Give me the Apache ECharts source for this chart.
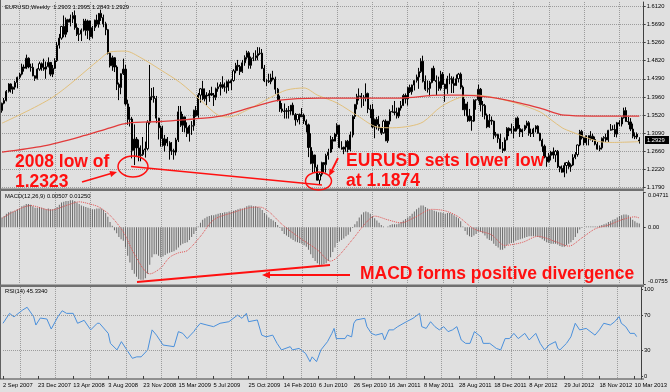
<!DOCTYPE html>
<html><head><meta charset="utf-8">
<script src="https://cdn.jsdelivr.net/npm/echarts@6/dist/echarts.min.js"></script>
<style>html,body{margin:0;padding:0;background:#e0e0e0}#c{width:670px;height:392px}</style>
</head><body><div id="c"></div>
<script>
// weekly bars: [open, high, low, close]
const y2007 = [
[1.3630,1.3820,1.3580,1.3805],[1.3805,1.3930,1.3780,1.3870],[1.3870,1.4120,1.3850,1.4090],[1.4090,1.4283,1.4060,1.4265],
[1.4265,1.4280,1.4060,1.4140],[1.4140,1.4205,1.4030,1.4190],[1.4190,1.4340,1.4130,1.4300],[1.4300,1.4440,1.4160,1.4425],
[1.4425,1.4530,1.4380,1.4500],[1.4500,1.4750,1.4470,1.4670],[1.4670,1.4730,1.4560,1.4640],[1.4640,1.4965,1.4620,1.4880],
[1.4880,1.4900,1.4640,1.4670],[1.4670,1.4750,1.4560,1.4660],[1.4660,1.4760,1.4450,1.4460],[1.4460,1.4470,1.4340,1.4400],
[1.4400,1.4640,1.4370,1.4620],[1.4620,1.4800,1.4580,1.4750]];
const y2008 = [
[1.4750,1.4780,1.4580,1.4660],[1.4660,1.4870,1.4580,1.4620],[1.4620,1.4800,1.4390,1.4680],[1.4680,1.4900,1.4660,1.4780],
[1.4780,1.4790,1.4450,1.4500],[1.4500,1.4720,1.4430,1.4640],[1.4640,1.4880,1.4620,1.4820],[1.4820,1.5270,1.4790,1.5190],
[1.5190,1.5460,1.5110,1.5360],[1.5360,1.5650,1.5320,1.5640],[1.5640,1.5900,1.5380,1.5450],[1.5450,1.5850,1.5380,1.5800],
[1.5800,1.5820,1.5500,1.5740],[1.5740,1.5920,1.5640,1.5820],[1.5820,1.5980,1.5720,1.5900],[1.5900,1.6020,1.5560,1.5610],
[1.5610,1.5710,1.5410,1.5450],[1.5450,1.5600,1.5290,1.5460],[1.5460,1.5590,1.5290,1.5550],[1.5550,1.5820,1.5520,1.5770],
[1.5770,1.5820,1.5420,1.5540],[1.5540,1.5800,1.5340,1.5770],[1.5770,1.5780,1.5310,1.5390],[1.5390,1.5650,1.5350,1.5610],
[1.5610,1.5800,1.5530,1.5790],[1.5790,1.5920,1.5640,1.5690],[1.5690,1.5900,1.5610,1.5950],[1.5950,1.6040,1.5770,1.5850],
[1.5850,1.5920,1.5620,1.5700],[1.5700,1.5750,1.5430,1.5560],[1.5560,1.5580,1.4970,1.5000],[1.5000,1.5020,1.4660,1.4700],
[1.4700,1.4940,1.4580,1.4890],[1.4890,1.4900,1.4550,1.4670],[1.4670,1.4710,1.4120,1.4260],[1.4260,1.4300,1.3880,1.4180],
[1.4180,1.4520,1.4020,1.4510],[1.4510,1.4870,1.4480,1.4620],[1.4620,1.4720,1.3750,1.3790],[1.3790,1.3890,1.3290,1.3420],
[1.3420,1.3720,1.3250,1.3430],[1.3430,1.3480,1.2490,1.2680],[1.2680,1.3300,1.2330,1.2950],[1.2950,1.3000,1.2520,1.2740],
[1.2740,1.2940,1.2420,1.2560],[1.2560,1.2800,1.2420,1.2580],[1.2580,1.3000,1.2550,1.2690],[1.2690,1.2890,1.2510,1.2720],
[1.2720,1.3400,1.2680,1.3350],[1.3350,1.4720,1.3300,1.3960],[1.3960,1.4170,1.3880,1.3970],[1.3970,1.4190,1.3820,1.3920]];
const y2009 = [
[1.3920,1.3980,1.3330,1.3450],[1.3450,1.3460,1.2940,1.3220],[1.3220,1.3270,1.2770,1.2960],[1.2960,1.3270,1.2770,1.2800],
[1.2800,1.3050,1.2650,1.2950],[1.2950,1.3000,1.2780,1.2860],[1.2860,1.2900,1.2460,1.2670],[1.2670,1.2880,1.2570,1.2670],
[1.2670,1.2720,1.2460,1.2640],[1.2640,1.2980,1.2560,1.2930],[1.2930,1.3740,1.2880,1.3600],[1.3600,1.3740,1.3240,1.3280],
[1.3280,1.3550,1.3120,1.3480],[1.3480,1.3490,1.3110,1.3220],[1.3220,1.3350,1.3000,1.3080],[1.3080,1.3290,1.2890,1.3260],
[1.3260,1.3380,1.3050,1.3270],[1.3270,1.3650,1.3150,1.3640],[1.3640,1.3740,1.3480,1.3510],[1.3510,1.4050,1.3460,1.4000],
[1.4000,1.4170,1.3820,1.4150],[1.4150,1.4340,1.3880,1.3910],[1.3910,1.4160,1.3850,1.4000],[1.4000,1.4070,1.3760,1.3980],
[1.3980,1.4120,1.3840,1.4040],[1.4040,1.4200,1.3980,1.4000],[1.4000,1.4050,1.3740,1.3950],[1.3950,1.4180,1.3880,1.4150],
[1.4150,1.4300,1.4080,1.4200],[1.4200,1.4310,1.3990,1.4250],[1.4250,1.4450,1.4150,1.4190],[1.4190,1.4300,1.4080,1.4190],
[1.4190,1.4350,1.4040,1.4320],[1.4320,1.4370,1.4100,1.4290],[1.4290,1.4380,1.4120,1.4350],[1.4350,1.4620,1.4320,1.4580],
[1.4580,1.4770,1.4520,1.4710],[1.4710,1.4840,1.4580,1.4680],[1.4680,1.4720,1.4480,1.4560],[1.4560,1.4840,1.4530,1.4770],
[1.4770,1.4950,1.4700,1.4900],[1.4900,1.5060,1.4850,1.5010],[1.5010,1.5050,1.4630,1.4710],[1.4710,1.4920,1.4630,1.4880],
[1.4880,1.5010,1.4810,1.4890],[1.4890,1.5070,1.4820,1.4940],[1.4940,1.5145,1.4830,1.4990],[1.4990,1.5140,1.4960,1.5000],
[1.5000,1.5100,1.4620,1.4640],[1.4640,1.4720,1.4310,1.4340],[1.4340,1.4380,1.4220,1.4340],[1.4340,1.4510,1.4290,1.4320]];
const y2010 = [
[1.4320,1.4510,1.4260,1.4410],[1.4410,1.4580,1.4350,1.4380],[1.4380,1.4440,1.4030,1.4140],[1.4140,1.4170,1.3850,1.3870],
[1.3870,1.3990,1.3600,1.3670],[1.3670,1.3810,1.3580,1.3620],[1.3620,1.3800,1.3440,1.3610],[1.3610,1.3690,1.3440,1.3630],
[1.3630,1.3740,1.3440,1.3620],[1.3620,1.3750,1.3530,1.3760],[1.3760,1.3820,1.3530,1.3530],[1.3530,1.3570,1.3270,1.3410],
[1.3410,1.3550,1.3350,1.3540],[1.3540,1.3560,1.3300,1.3480],[1.3480,1.3690,1.3480,1.3520],[1.3520,1.3560,1.3310,1.3380],
[1.3380,1.3420,1.3110,1.3290],[1.3290,1.3320,1.2520,1.2750],[1.2750,1.3090,1.2350,1.2370],[1.2370,1.2670,1.2150,1.2570],
[1.2570,1.2580,1.2150,1.2280],[1.2280,1.2340,1.1960,1.1970],[1.1970,1.2160,1.1876,1.2110],[1.2110,1.2410,1.2060,1.2390],
[1.2390,1.2400,1.2150,1.2340],[1.2340,1.2600,1.2150,1.2560],[1.2560,1.2720,1.2460,1.2640],[1.2640,1.3030,1.2620,1.2940],
[1.2940,1.3000,1.2710,1.2900],[1.2900,1.3100,1.2900,1.3070],[1.3070,1.3330,1.3010,1.3280],[1.3280,1.3290,1.2730,1.2750],
[1.2750,1.2900,1.2700,1.2710],[1.2710,1.2770,1.2590,1.2760],[1.2760,1.2920,1.2650,1.2900],[1.2900,1.2930,1.2630,1.2700],
[1.2700,1.3130,1.2660,1.3050],[1.3050,1.3520,1.2990,1.3490],[1.3490,1.3780,1.3430,1.3780],[1.3780,1.4030,1.3660,1.3970],
[1.3970,1.4160,1.3870,1.3980],[1.3980,1.4050,1.3700,1.3950],[1.3950,1.4000,1.3740,1.3940],[1.3940,1.4280,1.3850,1.4040],
[1.4040,1.4060,1.3570,1.3670],[1.3670,1.3770,1.3450,1.3660],[1.3660,1.3790,1.3210,1.3240],[1.3240,1.3440,1.2970,1.3420],
[1.3420,1.3480,1.3180,1.3300],[1.3300,1.3500,1.3150,1.3210],[1.3210,1.3240,1.3050,1.3100],[1.3100,1.3410,1.3080,1.3380]];
const y2011 = [
[1.3380,1.3420,1.2900,1.2910],[1.2910,1.3380,1.2860,1.3380],[1.3380,1.3660,1.3300,1.3610],[1.3610,1.3760,1.3580,1.3600],
[1.3600,1.3860,1.3520,1.3580],[1.3580,1.3700,1.3440,1.3500],[1.3500,1.3700,1.3450,1.3690],[1.3690,1.3860,1.3630,1.3750],
[1.3750,1.4030,1.3740,1.3990],[1.3990,1.4040,1.3800,1.3910],[1.3910,1.4200,1.3750,1.4180],[1.4180,1.4250,1.4050,1.4080],
[1.4080,1.4250,1.4010,1.4240],[1.4240,1.4350,1.4110,1.4350],[1.4350,1.4490,1.4300,1.4430],[1.4430,1.4650,1.4150,1.4560],
[1.4560,1.4880,1.4530,1.4810],[1.4810,1.4940,1.4300,1.4330],[1.4330,1.4470,1.4100,1.4140],[1.4140,1.4350,1.4060,1.4160],
[1.4160,1.4340,1.3970,1.4300],[1.4300,1.4640,1.4280,1.4640],[1.4640,1.4700,1.4340,1.4350],[1.4350,1.4470,1.4000,1.4320],
[1.4320,1.4440,1.4100,1.4160],[1.4160,1.4580,1.4110,1.4500],[1.4500,1.4550,1.4240,1.4260],[1.4260,1.4270,1.3840,1.4150],
[1.4150,1.4460,1.4030,1.4390],[1.4390,1.4520,1.4260,1.4390],[1.4390,1.4450,1.4050,1.4280],[1.4280,1.4440,1.4050,1.4230],
[1.4230,1.4490,1.4260,1.4390],[1.4390,1.4530,1.4300,1.4500],[1.4500,1.4540,1.4140,1.4190],[1.4190,1.4230,1.3660,1.3650],
[1.3650,1.3910,1.3500,1.3790],[1.3790,1.3840,1.3360,1.3500],[1.3500,1.3670,1.3370,1.3390],[1.3390,1.3500,1.3150,1.3380],
[1.3380,1.3900,1.3360,1.3880],[1.3880,1.3900,1.3650,1.3890],[1.3890,1.4250,1.3850,1.4140],[1.4140,1.4170,1.3610,1.3770],
[1.3770,1.3860,1.3480,1.3750],[1.3750,1.3790,1.3420,1.3520],[1.3520,1.3560,1.3210,1.3240],[1.3240,1.3550,1.3220,1.3400],
[1.3400,1.3490,1.3290,1.3380],[1.3380,1.3390,1.2950,1.3040],[1.3040,1.3120,1.2990,1.3060],[1.3060,1.3080,1.2860,1.2960]];
const y2012 = [
[1.2960,1.3080,1.2720,1.2720],[1.2720,1.2880,1.2620,1.2680],[1.2680,1.2990,1.2660,1.2930],[1.2930,1.3235,1.2920,1.3210],
[1.3210,1.3230,1.3020,1.3150],[1.3150,1.3320,1.3080,1.3200],[1.3200,1.3260,1.2970,1.3140],[1.3140,1.3460,1.3130,1.3450],
[1.3450,1.3490,1.3180,1.3200],[1.3200,1.3290,1.3000,1.3120],[1.3120,1.3200,1.3000,1.3180],[1.3180,1.3290,1.3140,1.3270],
[1.3270,1.3390,1.3210,1.3340],[1.3340,1.3380,1.3030,1.3090],[1.3090,1.3200,1.3000,1.3080],[1.3080,1.3220,1.3000,1.3190],
[1.3190,1.3280,1.3110,1.3260],[1.3260,1.3280,1.3080,1.3090],[1.3090,1.3100,1.2900,1.2920],[1.2920,1.2960,1.2640,1.2780],
[1.2780,1.2820,1.2490,1.2520],[1.2520,1.2530,1.2290,1.2410],[1.2410,1.2620,1.2390,1.2560],[1.2560,1.2670,1.2440,1.2640],
[1.2640,1.2750,1.2480,1.2570],[1.2570,1.2690,1.2400,1.2660],[1.2660,1.2690,1.2260,1.2290],[1.2290,1.2310,1.2160,1.2250],
[1.2250,1.2320,1.2150,1.2160],[1.2160,1.2390,1.2040,1.2320],[1.2320,1.2400,1.2130,1.2390],[1.2390,1.2440,1.2240,1.2290],
[1.2290,1.2370,1.2170,1.2330],[1.2330,1.2590,1.2310,1.2510],[1.2510,1.2640,1.2470,1.2580],[1.2580,1.2820,1.2530,1.2810],
[1.2810,1.3170,1.2780,1.3130],[1.3130,1.3170,1.2940,1.2980],[1.2980,1.2990,1.2800,1.2860],[1.2860,1.3040,1.2800,1.3030],
[1.3030,1.3040,1.2800,1.2950],[1.2950,1.3140,1.2920,1.3020],[1.3020,1.3080,1.2880,1.2940],[1.2940,1.3010,1.2800,1.2830],
[1.2830,1.2880,1.2700,1.2710],[1.2710,1.2800,1.2660,1.2740],[1.2740,1.2990,1.2700,1.2970],[1.2970,1.3020,1.2880,1.2990],
[1.2990,1.3080,1.2880,1.2930],[1.2930,1.3170,1.2880,1.3160],[1.3160,1.3310,1.3150,1.3180],[1.3180,1.3280,1.3160,1.3180],
[1.3180,1.3300,1.3000,1.3070]];
const y2013 = [
[1.3070,1.3360,1.2990,1.3340],[1.3340,1.3400,1.3260,1.3310],[1.3310,1.3480,1.3250,1.3460],[1.3460,1.3700,1.3440,1.3630],
[1.3630,1.3710,1.3370,1.3370],[1.3370,1.3480,1.3290,1.3360],[1.3360,1.3450,1.3140,1.3190],[1.3190,1.3320,1.2970,1.3020],
[1.3020,1.3110,1.2950,1.3000],[1.3000,1.3110,1.2950,1.3070],[1.2903,1.2995,1.2843,1.2929]];

// moving averages: [bar index, price]
const maSlow = [[0,1.264],[19,1.279],[37,1.303],[49,1.322],[57,1.333],[72,1.337],[82,1.341],[87,1.343],[99,1.350],[114,1.372],[126,1.388],[144,1.393],[167,1.393],[180,1.393],[199,1.400],[208,1.400],[221,1.395],[235,1.381],[244,1.369],[255,1.352],[268,1.350],[289,1.350]];
const maFast = [[0,1.333],[23,1.395],[44,1.484],[49,1.503],[56,1.505],[63,1.489],[72,1.460],[81,1.429],[90,1.388],[98,1.352],[103,1.348],[111,1.364],[122,1.395],[129,1.412],[137,1.417],[143,1.400],[152,1.381],[162,1.348],[170,1.324],[177,1.322],[185,1.326],[191,1.336],[199,1.372],[208,1.395],[215,1.400],[222,1.395],[233,1.381],[244,1.360],[249,1.341],[254,1.322],[256,1.317],[262,1.305],[270,1.290],[277,1.287],[289,1.289]];

// MACD main (histogram), one value per week
const macdHist = [
0.013,0.015,0.018,0.020,0.021,0.021,0.022,0.024,0.025,0.028,
0.029,0.031,0.031,0.030,0.028,0.026,0.026,0.027,0.026,0.025,
0.024,0.025,0.024,0.024,0.025,0.027,0.030,0.033,0.034,0.035,
0.035,0.036,0.036,0.035,0.033,0.031,0.029,0.028,0.027,0.026,
0.025,0.024,0.024,0.025,0.025,0.025,0.023,0.019,0.014,0.007,
0.002,-0.004,-0.008,-0.013,-0.016,-0.018,-0.027,-0.038,-0.047,-0.057,
-0.062,-0.066,-0.069,-0.070,-0.070,-0.068,-0.062,-0.050,-0.040,-0.036,
-0.036,-0.038,-0.040,-0.039,-0.037,-0.035,-0.034,-0.033,-0.032,-0.030,
-0.027,-0.024,-0.022,-0.021,-0.020,-0.017,-0.013,-0.009,-0.005,0.001,
0.006,0.010,0.012,0.014,0.015,0.016,0.016,0.017,0.018,0.019,
0.019,0.020,0.020,0.021,0.021,0.022,0.023,0.024,0.025,0.025,
0.026,0.028,0.029,0.029,0.028,0.028,0.027,0.026,0.023,0.019,
0.016,0.013,0.011,0.009,0.007,0.003,-0.001,-0.005,-0.009,-0.011,
-0.013,-0.015,-0.017,-0.019,-0.020,-0.021,-0.022,-0.024,-0.026,-0.030,
-0.036,-0.041,-0.045,-0.048,-0.050,-0.050,-0.049,-0.048,-0.045,-0.040,
-0.033,-0.027,-0.021,-0.019,-0.017,-0.015,-0.012,-0.010,-0.006,-0.001,
0.004,0.008,0.013,0.017,0.020,0.021,0.020,0.018,0.015,0.012,
0.009,0.006,0.003,0.001,0.000,0.001,0.003,0.004,0.004,0.004,
0.005,0.007,0.009,0.011,0.013,0.015,0.018,0.021,0.024,0.026,
0.029,0.029,0.027,0.025,0.023,0.023,0.022,0.021,0.020,0.020,
0.019,0.018,0.019,0.019,0.018,0.016,0.014,0.012,0.008,0.001,
-0.005,-0.010,-0.012,-0.013,-0.011,-0.009,-0.006,-0.006,-0.008,-0.011,
-0.015,-0.017,-0.018,-0.022,-0.025,-0.027,-0.030,-0.030,-0.028,-0.024,
-0.022,-0.021,-0.020,-0.018,-0.017,-0.016,-0.015,-0.014,-0.013,-0.012,
-0.012,-0.012,-0.012,-0.013,-0.014,-0.016,-0.018,-0.020,-0.021,-0.022,
-0.022,-0.022,-0.023,-0.025,-0.026,-0.026,-0.024,-0.022,-0.020,-0.017,
-0.013,-0.008,-0.003,-0.001,0.000,0.001,0.001,0.001,0.001,0.001,
0.001,0.002,0.003,0.004,0.005,0.007,0.008,0.010,0.011,0.013,
0.015,0.016,0.017,0.017,0.016,0.013,0.010,0.008,0.006,0.005];

// MACD signal line: [bar index, value]
const macdSignal = [[0,0.012],[6,0.022],[13,0.029],[22,0.023],[30,0.030],[35,0.034],[40,0.031],[44,0.027],[49,0.016],[55,-0.006],[59,-0.030],[64,-0.055],[67,-0.062],[72,-0.054],[76,-0.040],[80,-0.034],[84,-0.031],[90,-0.012],[96,0.010],[105,0.020],[112,0.026],[117,0.027],[121,0.021],[127,0.004],[135,-0.014],[143,-0.030],[149,-0.045],[152,-0.040],[159,-0.016],[165,0.006],[169,0.015],[175,0.010],[181,0.006],[187,0.013],[195,0.024],[201,0.022],[207,0.014],[214,-0.002],[222,-0.010],[228,-0.024],[236,-0.020],[243,-0.012],[251,-0.019],[257,-0.025],[263,-0.014],[269,-0.002],[275,0.003],[281,0.010],[287,0.014],[289,0.0125]];

// RSI(14): [bar index, value]
const rsi = [[0,60.6],[3,72],[5,68],[9,75.9],[11,79],[14,68],[15,58.6],[17,66.6],[20,65.5],[22,54],[25,68],[27,75],[29,72],[32,72],[34,60.6],[37,64],[40,53],[43,60.6],[44,60.6],[48,49],[49,37.5],[52,30],[54,39.5],[57,28],[59,20.3],[61,22],[63,22],[66,30],[68,53],[70,47],[73,35.6],[78,33.7],[80,51],[82,49],[84,43],[87,51],[88,54.7],[90,60.6],[93,58.6],[96,56.7],[99,60.6],[103,62.4],[107,70],[109,66.3],[111,72],[112,62.4],[116,64.4],[118,47],[120,45],[123,47],[125,37.5],[127,30],[131,33.7],[132,30],[135,31.7],[138,26],[140,16.5],[141,22],[143,16.5],[145,30],[148,39.5],[150,49],[151,54.7],[152,43],[156,43],[157,47],[159,45],[160,60.6],[161,64.4],[165,66.3],[166,56.7],[168,49],[170,47],[173,49],[174,41.4],[176,53],[178,53],[180,56.7],[184,62.4],[187,66.3],[190,72],[191,56.7],[193,54.7],[195,62.4],[197,56.7],[199,53],[201,56.7],[203,51],[205,53],[207,56.7],[209,41.4],[211,37.5],[213,37.5],[215,51],[218,45],[219,37.5],[222,37.5],[225,31.7],[227,30],[229,43],[231,43],[233,49],[235,43],[238,49],[240,41.4],[243,49],[245,37.5],[247,30],[249,35.6],[252,39.5],[253,31.7],[254,30],[257,37.5],[259,45],[261,60.6],[263,53],[266,54.7],[270,47],[272,53],[274,60.6],[277,58.6],[279,62.4],[281,68.3],[282,60.6],[284,56.7],[286,49],[288,49],[289,45.3]];

const xTickLabels = ['2 Sep 2007','23 Dec 2007','13 Apr 2008','3 Aug 2008','23 Nov 2008','15 Mar 2009','5 Jul 2009','25 Oct 2009','14 Feb 2010','6 Jun 2010','26 Sep 2010','16 Jan 2011','8 May 2011','28 Aug 2011','18 Dec 2011','8 Apr 2012','29 Jul 2012','18 Nov 2012','10 Mar 2013'];
const priceTicks = [1.1790,1.2223,1.2656,1.3089,1.3522,1.3955,1.4388,1.4821,1.5254,1.5687,1.6120];
const priceTickLabels = ['1.1790','1.2220','1.2660','1.3090','1.3520','1.3960','1.4390','1.4820','1.5260','1.5690','1.6120'];
const macdTicks = [-0.0755,0,0.04711];
const macdTickLabels = ['-0.0755','0.00','0.04711'];
const rsiTicks = [0,30,70,100];
const rsiLevels = [30,70];

const ohlc = [].concat(y2007,y2008,y2009,y2010,y2011,y2012,y2013);
const nCats = ohlc.length + 2;
const cats = Array.from({length:nCats},(_,i)=>String(i));
const candleData = ohlc.map(r=>[r[0],r[3],r[2],r[1]]);
const last = ohlc[ohlc.length-1];

const FONT = 'Liberation Sans';
const small = 5.8;
const gridL = 2, gridW = 641.7;
const chart = echarts.init(document.getElementById('c'), null, {renderer:'canvas'});

function xAx(g){
  return {type:'category', gridIndex:g, data:cats, boundaryGap:false,
    axisLine:{show:false},
    axisTick:{show:g===2, interval:(i)=>i%16===0, length:3, lineStyle:{color:'#404040'}},
    axisLabel:{show:g===2, interval:(i)=>i%16===0, formatter:(v)=>xTickLabels[Number(v)/16]||'', align:'left',
      fontSize:small, fontFamily:FONT, color:'#000', margin:3},
    splitLine:{show:true, interval:(i)=>i%16===8, lineStyle:{type:'dotted', color:'#9c9c9c', width:1}}};
}
const axLine = {show:true, lineStyle:{color:'#404040', width:1}};
const option = {
  animation:false,
  backgroundColor:'#e0e0e0',
  grid:[
    {left:gridL, width:gridW, top:2, height:186.5},
    {left:gridL, width:gridW, top:192, height:92},
    {left:gridL, width:gridW, top:287, height:92}
  ],
  xAxis:[xAx(0),xAx(1),xAx(2)],
  yAxis:[
    {type:'value', gridIndex:0, position:'right', min:1.1771, max:1.6222,
      axisLine:axLine, axisTick:{show:true, length:2, customValues:priceTicks, lineStyle:{color:'#404040'}},
      axisLabel:{customValues:priceTicks, formatter:(v)=>{const k=priceTicks.findIndex(t=>Math.abs(t-v)<1e-6);return k>=0?priceTickLabels[k]:'';},
        fontSize:small, fontFamily:FONT, color:'#000', margin:3},
      splitLine:{show:true, lineStyle:{type:'dotted', color:'#9c9c9c'}}},
    {type:'value', gridIndex:1, position:'right', min:-0.0755, max:0.04711,
      axisLine:axLine, axisTick:{show:true, length:2, customValues:macdTicks, lineStyle:{color:'#404040'}},
      axisLabel:{show:false}, splitLine:{show:false}},
    {type:'value', gridIndex:2, position:'right', min:-3.45, max:102.3,
      axisLine:axLine, axisTick:{show:true, length:2, customValues:rsiTicks, lineStyle:{color:'#404040'}},
      axisLabel:{customValues:rsiTicks, formatter:(v)=>String(Math.round(v)), fontSize:small, fontFamily:FONT, color:'#000', margin:3},
      splitLine:{show:false}}
  ],
  series:[
    {type:'candlestick', xAxisIndex:0, yAxisIndex:0, data:candleData, barWidth:1.6,
      itemStyle:{color:'#ffffff', color0:'#000000', borderColor:'#000000', borderColor0:'#000000', borderWidth:1}},
    {type:'line', xAxisIndex:0, yAxisIndex:0, data:maFast, showSymbol:false, smooth:0.3, lineStyle:{color:'#e2c07c', width:1}},
    {type:'line', xAxisIndex:0, yAxisIndex:0, data:maSlow, showSymbol:false, smooth:0.3, lineStyle:{color:'#e23a3a', width:1.3}},
    {type:'bar', xAxisIndex:1, yAxisIndex:1, data:macdHist, barWidth:1, itemStyle:{color:'#6a6a6a'}},
    {type:'line', xAxisIndex:1, yAxisIndex:1, data:macdSignal, showSymbol:false, smooth:0.3, lineStyle:{color:'#e05050', width:1, type:'dotted'}},
    {type:'line', xAxisIndex:2, yAxisIndex:2, data:rsi, showSymbol:false, lineStyle:{color:'#4a90dc', width:1},
      markLine:{silent:true, symbol:'none', label:{show:false}, lineStyle:{type:'dotted', color:'#9c9c9c', width:1},
        data:rsiLevels.map(v=>({yAxis:v}))}}
  ]
};
chart.setOption(option);

const red = '#ff1010';
const g = [];
// panel separators and frame
g.push({type:'rect', shape:{x:0,y:0,width:1,height:379}, style:{fill:'#606060'}, z:50});
g.push({type:'rect', shape:{x:0,y:188.5,width:644,height:2.5}, style:{fill:'#707070'}, z:50});
g.push({type:'rect', shape:{x:0,y:284.5,width:644,height:2.5}, style:{fill:'#707070'}, z:50});
g.push({type:'rect', shape:{x:0,y:378.5,width:644,height:1}, style:{fill:'#404040'}, z:50});
// header texts
const hdr = (t,y)=>({type:'text', x:5, y:y, style:{text:t, fill:'#000', font:small+'px '+FONT, verticalAlign:'middle'}, z:60});
g.push(hdr('EURUSD,Weekly  '+last.map(v=>v.toFixed(4)).join(' '),7));
g.push(hdr('MACD(12,26,9) 0.00507 0.01250',196));
g.push(hdr('RSI(14) 45.3340',291));
// MACD axis labels
macdTicks.forEach((v,k)=>{
  const y = chart.convertToPixel({yAxisIndex:1}, v);
  g.push({type:'text', x:648, y:y, style:{text:macdTickLabels[k], fill:'#000', font:small+'px '+FONT,
    verticalAlign: k===2?'top':(k===0?'bottom':'middle')}, z:60});
});
// current price tag
const py = chart.convertToPixel({yAxisIndex:0}, last[3]);
g.push({type:'rect', shape:{x:645,y:py-4,width:24,height:8}, style:{fill:'#000'}, z:60});
g.push({type:'text', x:647, y:py, style:{text:last[3].toFixed(4), fill:'#fff', font:small+'px '+FONT, verticalAlign:'middle'}, z:61});
// annotations
const bigFont = 'bold 17.5px '+FONT;
const txt = (t,x,y)=>({type:'text', x:x, y:y, style:{text:t, fill:red, font:bigFont, verticalAlign:'middle'}, z:70});
g.push(txt('2008 low of',15,162));
g.push(txt('1.2323',15,182));
g.push(txt('EURUSD sets lower low',346,161));
g.push(txt('at 1.1874',346,181));
g.push(txt('MACD forms positive divergence',360,274));
const ln = (x1,y1,x2,y2,w)=>({type:'line', shape:{x1,y1,x2,y2}, style:{stroke:red, lineWidth:w||2}, z:70});
const poly = (pts)=>({type:'polygon', shape:{points:pts}, style:{fill:red}, z:70});
g.push({type:'ellipse', shape:{cx:133,cy:166.5,rx:15,ry:10.5}, style:{stroke:red, fill:null, lineWidth:1.5}, z:70});
g.push({type:'ellipse', shape:{cx:318.5,cy:181,rx:13,ry:9}, style:{stroke:red, fill:null, lineWidth:1.5}, z:70});
g.push(ln(131,166.5,322,185,1.5));
g.push(ln(82,182,111,173.5,1.8));
g.push(poly([[117,172],[111.1,176.9],[109.5,171.1]]));
g.push(ln(338,158,332,170,1.8));
g.push(poly([[329,176],[334.9,171.2],[329.6,168.4]]));
g.push(ln(137,282,330,265,2));
g.push(ln(350,275,268,275,1.8));
g.push(poly([[262,275],[270,271.5],[270,278.5]]));
chart.setOption({graphic:g});
</script>
</body></html>
